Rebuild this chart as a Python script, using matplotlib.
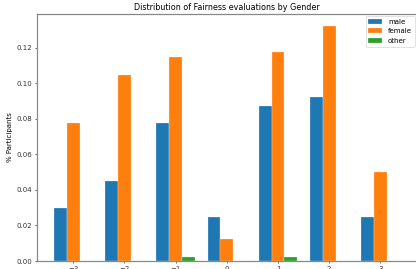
import matplotlib
matplotlib.use("Agg")
import matplotlib.pyplot as plt
import numpy as np

scores = [-3, -2, -1, 0, 1, 2, 3]
male = [0.030, 0.045, 0.0775, 0.025, 0.0875, 0.0925, 0.025]
female = [0.0775, 0.105, 0.115, 0.0125, 0.1175, 0.1325, 0.05]
other = [0.0, 0.0, 0.0025, 0.0, 0.0025, 0.0, 0.0]

# big figure drawn at low dpi, so everything is scaled down like the reference
fig = plt.figure(figsize=(8.32, 5.38), dpi=50)
# the reference is a crop: right spine and x tick labels fall just outside
ax = fig.add_axes([36.8 / 416, 8 / 269, 380 / 416, 247 / 269])

x = np.array(scores)
w = 0.25
ax.bar(x - w, male, w, label='male', color='#1f77b4', edgecolor='white', linewidth=0.35)
ax.bar(x, female, w, label='female', color='#ff7f0e', edgecolor='white', linewidth=0.35)
ax.bar(x + w, other, w, label='other', color='#2ca02c', edgecolor='white', linewidth=0.35)

ax.set_xticks(scores)
ax.set_ylabel('% Participants')
ax.set_title('Distribution of Fairness evaluations by Gender', fontsize=11.5)
ax.tick_params(colors='#555555', labelcolor='#333333', width=1.2)
for s in ax.spines.values():
    s.set_color('#888888')
    s.set_linewidth(1.8)
ax.legend(loc='upper right', borderaxespad=0.3)

fig.savefig('out.png', dpi=50)
